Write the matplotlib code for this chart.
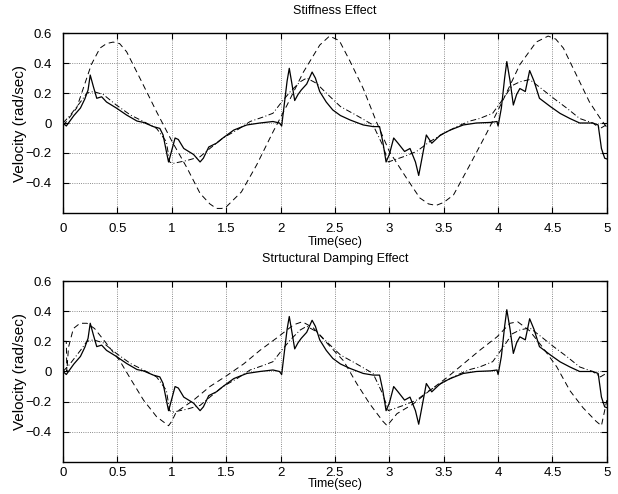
import matplotlib
matplotlib.use('Agg')
import matplotlib.pyplot as plt

plt.rcParams['font.family'] = ['Liberation Sans', 'DejaVu Sans']
plt.rcParams['font.size'] = 9

# measured response (solid), same in both panels
t_meas = [0, 0.03, 0.06, 0.1, 0.16, 0.2, 0.23, 0.25, 0.28, 0.31, 0.355, 0.40, 0.49, 0.585,
          0.68, 0.74, 0.83, 0.89, 0.92, 0.95, 0.97, 0.98, 1.03, 1.06, 1.11, 1.2, 1.26, 1.29,
          1.34, 1.41, 1.47, 1.57, 1.69, 1.81, 1.93, 1.99, 2.01, 2.06, 2.08, 2.10, 2.13, 2.16,
          2.19, 2.24, 2.29, 2.32, 2.36, 2.42, 2.48, 2.55, 2.64, 2.76, 2.85, 2.91, 2.94, 2.97,
          3.0, 3.04, 3.08, 3.14, 3.19, 3.24, 3.27, 3.30, 3.34, 3.39, 3.47, 3.56, 3.68, 3.8,
          3.93, 3.99, 4.0, 4.03, 4.06, 4.08, 4.11, 4.14, 4.17, 4.2, 4.25, 4.29, 4.33, 4.38,
          4.48, 4.57, 4.66, 4.75, 4.87, 4.92, 4.95, 4.98, 5.0]
v_meas = [0.0, -0.02, 0.01, 0.05, 0.1, 0.16, 0.22, 0.32, 0.24, 0.165, 0.175, 0.14, 0.1, 0.053,
          0.013, 0.004, -0.024, -0.036, -0.08, -0.19, -0.26, -0.235, -0.10, -0.11, -0.17, -0.21,
          -0.26, -0.235, -0.16, -0.135, -0.10, -0.047, -0.013, 0.0, 0.01, 0.0, -0.02, 0.28,
          0.365, 0.28, 0.15, 0.19, 0.22, 0.26, 0.34, 0.30, 0.21, 0.14, 0.087, 0.05, 0.02,
          -0.013, -0.024, -0.024, -0.125, -0.26, -0.21, -0.10, -0.135, -0.19, -0.17, -0.26,
          -0.35, -0.235, -0.08, -0.135, -0.08, -0.047, -0.013, 0.0, 0.004, 0.01, -0.02, 0.1,
          0.3, 0.41, 0.28, 0.12, 0.19, 0.23, 0.21, 0.35, 0.28, 0.165, 0.11, 0.064, 0.03, 0.0,
          0.0, -0.013, -0.17, -0.235, -0.24]

# nominal model (dash-dot), same in both panels
t_nom = [0, 0.064, 0.16, 0.22, 0.28, 0.37, 0.49, 0.62, 0.74, 0.86, 0.95, 0.98, 1.01, 1.14,
         1.26, 1.35, 1.47, 1.6, 1.72, 1.84, 1.93, 2.01, 2.09, 2.18, 2.24, 2.33, 2.42, 2.55,
         2.7, 2.85, 2.94, 2.99, 3.13, 3.25, 3.37, 3.5, 3.62, 3.74, 3.83, 3.95, 4.05, 4.13,
         4.2, 4.29, 4.38, 4.51, 4.63, 4.75, 4.87, 4.94, 5.0]
v_nom = [0.0, 0.05, 0.14, 0.2, 0.21, 0.19, 0.12, 0.053, 0.01, -0.036, -0.125, -0.26, -0.27,
         -0.25, -0.225, -0.17, -0.10, -0.047, 0.01, 0.04, 0.065, 0.14, 0.21, 0.275, 0.3, 0.265,
         0.2, 0.11, 0.05, -0.013, -0.15, -0.26, -0.225, -0.19, -0.125, -0.07, -0.024, 0.013,
         0.03, 0.065, 0.165, 0.25, 0.275, 0.29, 0.24, 0.165, 0.1, 0.03, 0.0, -0.036, -0.01]

# stiffness variation (dashed, top)
t_stiff = [0, 0.125, 0.26, 0.34, 0.40, 0.46, 0.52, 0.585, 0.72, 0.86, 1.0, 1.14, 1.26, 1.35,
           1.41, 1.46, 1.5, 1.64, 1.78, 1.93, 2.06, 2.21, 2.36, 2.45, 2.54, 2.64, 2.76, 2.88,
           3.0, 3.16, 3.28, 3.36, 3.43, 3.5, 3.59, 3.74, 3.9, 4.05, 4.2, 4.35, 4.46, 4.53, 4.6,
           4.72, 4.84, 4.94, 5.0]
v_stiff = [-0.02, 0.1, 0.39, 0.50, 0.53, 0.54, 0.53, 0.475, 0.28, 0.075, -0.12, -0.30, -0.47,
           -0.54, -0.57, -0.57, -0.56, -0.46, -0.28, -0.06, 0.12, 0.34, 0.52, 0.58, 0.55, 0.41,
           0.23, 0.01, -0.19, -0.37, -0.50, -0.54, -0.55, -0.53, -0.48, -0.28, -0.06, 0.16,
           0.39, 0.54, 0.58, 0.56, 0.50, 0.32, 0.14, 0.03, -0.03]

# structural damping variation (dashed, bottom)
t_damp = [0, 0.03, 0.035, 0.05, 0.095, 0.156, 0.22, 0.29, 0.4, 0.52, 0.63, 0.74, 0.86, 0.97,
          1.0, 1.04, 1.2, 1.35, 1.5, 1.66, 1.81, 1.96, 2.12, 2.2, 2.3, 2.45, 2.58, 2.7, 2.82,
          2.94, 2.98, 3.07, 3.22, 3.37, 3.53, 3.68, 3.83, 3.99, 4.11, 4.18, 4.29, 4.41, 4.54,
          4.66, 4.78, 4.9, 4.95, 5.0]
v_damp = [0.2, 0.2, 0.0, 0.16, 0.285, 0.32, 0.32, 0.285, 0.185, 0.073, -0.06, -0.19, -0.30,
          -0.36, -0.33, -0.27, -0.19, -0.10, -0.03, 0.05, 0.14, 0.22, 0.31, 0.33, 0.29, 0.17,
          0.07, -0.08, -0.215, -0.33, -0.36, -0.28, -0.215, -0.127, -0.04, 0.05, 0.14, 0.23,
          0.32, 0.33, 0.27, 0.16, 0.03, -0.127, -0.24, -0.33, -0.36, -0.19]

titles = ['Stiffness Effect', 'Strtuctural Damping Effect']
xticks = [0, 0.5, 1, 1.5, 2, 2.5, 3, 3.5, 4, 4.5, 5]
xticklabels = ['0', '0.5', '1', '1.5', '2', '2.5', '3', '3.5', '4', '4.5', '5']
yticks = [-0.4, -0.2, 0, 0.2, 0.4, 0.6]
yticklabels = ['\u22120.4', '\u22120.2', '0', '0.2', '0.4', '0.6']

fig = plt.figure(figsize=(6.18, 4.94), dpi=100)
ax1 = fig.add_axes([0.102, 0.569, 0.880, 0.364])
ax2 = fig.add_axes([0.102, 0.065, 0.880, 0.366])

for ax, title, (tv, vv) in zip([ax1, ax2], titles,
                               [(t_stiff, v_stiff), (t_damp, v_damp)]):
    ax.plot(t_meas, v_meas, color='k', linestyle='-', linewidth=0.9)
    ax.plot(t_nom, v_nom, color='k', linestyle='-.', linewidth=0.7, dashes=(6, 2.5, 1, 2.5))
    ax.plot(tv, vv, color='k', linestyle='--', linewidth=0.7, dashes=(6, 4))
    ax.set_xlim(0, 5)
    ax.set_ylim(-0.6, 0.6)
    ax.set_xticks(xticks)
    ax.set_xticklabels(xticklabels)
    ax.set_yticks(yticks)
    ax.set_yticklabels(yticklabels)
    ax.grid(True, linestyle=':', color='k', linewidth=0.6, alpha=0.6)
    ax.tick_params(direction='in', top=True, right=True, length=4, width=0.8, labelsize=9.5)
    ax.tick_params(axis='x', pad=7)
    ax.tick_params(axis='y', pad=8)
    for s in ax.spines.values():
        s.set_linewidth(1.0)
    ax.set_title(title, fontsize=9, pad=14)
    ax.set_xlabel('Time(sec)', fontsize=9, labelpad=1)
    ax.set_ylabel('Velocity (rad/sec)', fontsize=11, labelpad=-1)

# bottom panel labels sit a little tighter so the x label stays on the canvas
ax2.tick_params(axis='x', pad=4)
ax2.set_xlabel('Time(sec)', fontsize=9, labelpad=-1)

fig.savefig('out.png', dpi=100)
